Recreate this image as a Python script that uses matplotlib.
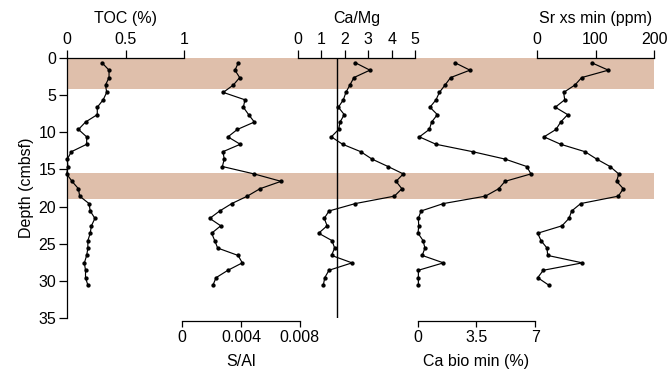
import matplotlib
matplotlib.use("Agg")
import matplotlib.pyplot as plt

plt.rcParams['font.family'] = ['Liberation Sans', 'DejaVu Sans']
plt.rcParams['font.size'] = 11.5

# Sample depths (m below sea floor)
depth = [0.6, 1.6, 2.6, 3.6, 4.6, 5.6, 6.6, 7.6, 8.6, 9.6, 10.6, 11.6, 12.6,
         13.6, 14.6, 15.6, 16.6, 17.6, 18.6, 19.6, 20.6, 21.6, 22.6, 23.6,
         24.6, 25.6, 26.6, 27.6, 28.6, 29.6, 30.6]

toc = [0.30, 0.36, 0.36, 0.33, 0.34, 0.31, 0.26, 0.26, 0.16, 0.10, 0.17,
       0.17, 0.04, 0.005, 0.01, 0.0, 0.045, 0.10, 0.11, 0.19, 0.20, 0.24,
       0.21, 0.20, 0.18, 0.18, 0.17, 0.15, 0.16, 0.16, 0.18]

s_al = [0.00382, 0.00359, 0.00391, 0.00348, 0.00279, 0.00427, 0.00416,
        0.00452, 0.00491, 0.00375, 0.00311, 0.00395, 0.00277, 0.00286,
        0.00273, 0.00489, 0.00673, 0.00529, 0.00443, 0.00337, 0.00255,
        0.00187, 0.00262, 0.00200, 0.00221, 0.00241, 0.00380, 0.00409,
        0.00311, 0.00230, 0.00209]

ca_mg = [2.45, 3.07, 2.39, 2.22, 2.05, 1.94, 1.73, 1.98, 1.80, 1.74, 1.43,
         1.91, 2.68, 3.16, 3.84, 4.49, 4.18, 4.43, 4.11, 2.45, 1.33, 1.13,
         1.25, 0.89, 1.46, 1.57, 1.44, 2.31, 1.33, 1.15, 1.09]

ca_bio = [2.22, 3.11, 1.96, 1.63, 1.29, 1.09, 0.73, 1.17, 0.83, 0.69, 0.10,
          1.09, 3.27, 5.20, 6.49, 6.74, 5.20, 4.82, 4.03, 1.53, 0.20, 0.04,
          0.06, 0.02, 0.32, 0.43, 0.27, 1.53, 0.04, 0.04, 0.04]

sr_xs = [93.5, 121.8, 76.5, 65.1, 45.9, 47.6, 31.6, 52.7, 40.8, 32.8, 12.4,
         40.8, 82.1, 102.0, 124.7, 139.5, 136.0, 147.3, 138.8, 74.8, 59.5,
         54.9, 43.0, 1.7, 7.3, 17.5, 18.7, 77.6, 11.2, 1.7, 20.4]

# Highlighted depth intervals and Ca/Mg reference value
bands = [(0.0, 4.2), (15.5, 19.0)]
ca_mg_ref = 1.66

depth_ticks = [0, 5, 10, 15, 20, 25, 30, 35]
toc_ticks, toc_labels = [0, 0.5, 1], ['0', '0.5', '1']
sal_ticks, sal_labels = [0, 0.004, 0.008], ['0', '0.004', '0.008']
camg_ticks = [0, 1, 2, 3, 4, 5]
cabio_ticks, cabio_labels = [0, 3.5, 7], ['0', '3.5', '7']
sr_ticks = [0, 100, 200]

band_color = '#dfbfab'
W, H = 671.0, 371.0
Y_TOP, Y_BOT = 58.3, 317.7


def rect(x0, x1):
    return [x0 / W, 1 - Y_BOT / H, (x1 - x0) / W, (Y_BOT - Y_TOP) / H]


fig = plt.figure(figsize=(6.71, 3.71), dpi=100)

# Shaded intervals across all panels
bg = fig.add_axes(rect(66.7, 654.3), zorder=0)
bg.set_ylim(35, 0)
bg.set_xlim(0, 1)
bg.axis('off')
for top, bot in bands:
    bg.axhspan(top, bot, color=band_color, lw=0)

LW = 0.9
TL = 6


def panel(x0, x1, xlim, side):
    ax = fig.add_axes(rect(x0, x1), zorder=1)
    ax.patch.set_visible(False)
    ax.set_ylim(35, 0)
    ax.set_xlim(*xlim)
    for s in ax.spines.values():
        s.set_visible(False)
    sp = ax.spines[side]
    sp.set_visible(True)
    sp.set_linewidth(LW)
    if side == 'top':
        ax.xaxis.set_ticks_position('top')
        ax.xaxis.set_label_position('top')
        ax.tick_params(axis='x', direction='out', length=TL, width=LW, pad=2)
    else:
        sp.set_position(('outward', 2.2))
        ax.xaxis.set_ticks_position('bottom')
        ax.xaxis.set_label_position('bottom')
        ax.tick_params(axis='x', direction='out', length=4, width=LW, pad=3)
    ax.set_yticks([])
    return ax


def trace(ax, x):
    ax.plot(x, depth, color='black', lw=0.85, marker='o', ms=2.1,
            mec='black', mfc='black', clip_on=False)


ax1 = panel(66.7, 184.3, (0, 1), 'top')
ax1.spines['left'].set_visible(True)
ax1.spines['left'].set_linewidth(LW)
ax1.set_yticks(depth_ticks)
ax1.tick_params(axis='y', direction='out', length=TL, width=LW, pad=1.5)
ax1.set_ylabel('Depth (cmbsf)', labelpad=3)
ax1.set_xticks(toc_ticks, toc_labels)
ax1.set_xlabel('TOC (%)', labelpad=6.5)
trace(ax1, toc)

ax2 = panel(182.3, 299.7, (0, 0.008), 'bottom')
ax2.set_xticks(sal_ticks, sal_labels)
ax2.set_xlabel('S/Al', labelpad=6)
trace(ax2, s_al)

ax3 = panel(297.7, 415.3, (0, 5), 'top')
ax3.set_xticks(camg_ticks)
ax3.set_xlabel('Ca/Mg', labelpad=6.5)
ax3.axvline(ca_mg_ref, color='black', lw=1.0)
trace(ax3, ca_mg)

ax4 = panel(417.7, 535.3, (0, 7), 'bottom')
ax4.set_xticks(cabio_ticks, cabio_labels)
ax4.set_xlabel('Ca bio min (%)', labelpad=6)
trace(ax4, ca_bio)

ax5 = panel(536.7, 654.3, (0, 200), 'top')
ax5.set_xticks(sr_ticks)
ax5.set_xlabel('Sr xs min (ppm)', labelpad=6.5)
trace(ax5, sr_xs)

fig.savefig('out.png', dpi=100)
